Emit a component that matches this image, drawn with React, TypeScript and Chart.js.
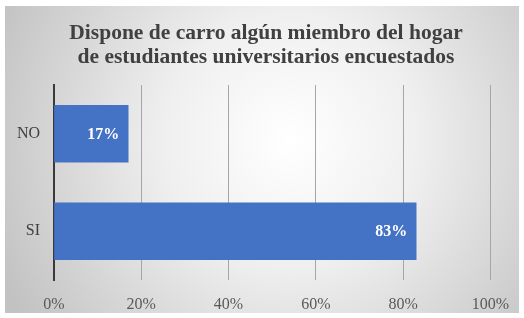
import React, { useEffect, useRef } from "react";
import { Chart, registerables } from "chart.js";

Chart.register(...registerables);

const titleLines = [
  "Dispone de carro algún miembro del hogar",
  "de estudiantes universitarios encuestados",
];
const categories = ["NO", "SI"];
const values = [17, 83];
const axisMin = 0;
const axisMax = 100;
const axisStep = 20;

const SERIF = '"Liberation Serif", "Times New Roman", serif';

const backgroundPlugin = {
  id: "bgPanel",
  beforeDraw(chart: any) {
    const ctx = chart.ctx;
    const w = chart.width;
    const h = chart.height;
    ctx.save();
    ctx.fillStyle = "#ffffff";
    ctx.fillRect(0, 0, w, h);
    const g = ctx.createRadialGradient(290, 140, 0, 290, 140, 320);
    g.addColorStop(0, "#ffffff");
    g.addColorStop(0.4, "#efefef");
    g.addColorStop(1, "#c2c2c2");
    ctx.fillStyle = g;
    ctx.fillRect(5, 6, w - 10, h - 11);
    ctx.restore();
  },
};

const titlePlugin = {
  id: "twoLineTitle",
  afterDraw(chart: any) {
    const ctx = chart.ctx;
    ctx.save();
    ctx.font = `bold 21.5px ${SERIF}`;
    ctx.fillStyle = "#404040";
    ctx.textAlign = "center";
    ctx.textBaseline = "alphabetic";
    titleLines.forEach((line, i) => {
      ctx.fillText(line, 266, 39 + i * 24);
    });
    ctx.restore();
  },
};

const valueLabelPlugin = {
  id: "valueLabels",
  afterDatasetsDraw(chart: any) {
    const ctx = chart.ctx;
    const meta = chart.getDatasetMeta(0);
    ctx.save();
    ctx.font = `bold 16px ${SERIF}`;
    ctx.fillStyle = "#ffffff";
    ctx.textAlign = "right";
    ctx.textBaseline = "middle";
    meta.data.forEach((bar: any, i: number) => {
      const v = chart.data.datasets[0].data[i];
      ctx.fillText(`${v}%`, bar.x - 9, bar.y + 1);
    });
    ctx.restore();
  },
};

export default function App() {
  const ref = useRef<HTMLCanvasElement>(null);

  useEffect(() => {
    if (!ref.current) return;
    const chart = new Chart(ref.current, {
      type: "bar",
      data: {
        labels: categories,
        datasets: [
          {
            data: values,
            backgroundColor: "#4472c4",
            borderWidth: 0,
            barThickness: 57,
          },
        ],
      },
      options: {
        indexAxis: "y",
        animation: false,
        responsive: false,
        maintainAspectRatio: false,
        layout: { padding: { top: 85, right: 33, bottom: 0, left: 0 } },
        plugins: {
          legend: { display: false },
          title: { display: false },
          tooltip: { enabled: false },
        },
        scales: {
          x: {
            min: axisMin,
            max: axisMax,
            ticks: {
              stepSize: axisStep,
              callback: (v: any) => `${v}%`,
              font: { family: SERIF, size: 16 },
              color: "#595959",
              padding: 15,
            },
            grid: { color: "#a6a6a6", lineWidth: 1, drawTicks: false },
            border: { display: false },
            afterFit: (s: any) => {
              s.height = 38;
            },
          },
          y: {
            ticks: {
              font: { family: SERIF, size: 16 },
              color: "#404040",
              padding: 14,
            },
            grid: { display: false, drawTicks: false },
            border: { display: true, color: "#3a3a3a", width: 2 },
            afterFit: (s: any) => {
              s.width = 54;
            },
          },
        },
      },
      plugins: [backgroundPlugin, titlePlugin, valueLabelPlugin],
    });
    return () => chart.destroy();
  }, []);

  return (
    <div style={{ position: "absolute", left: 0, top: 0, width: 524, height: 318 }}>
      <canvas ref={ref} width={524} height={318} style={{ width: 524, height: 318, display: "block" }} />
    </div>
  );
}
